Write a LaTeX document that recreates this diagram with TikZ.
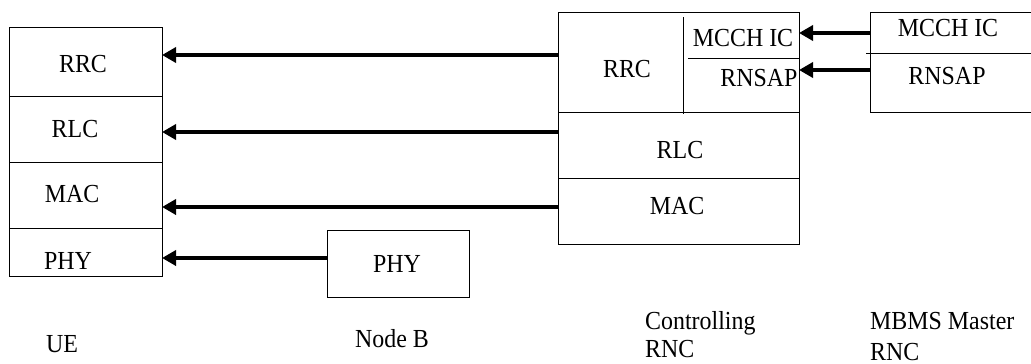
\documentclass[tikz,border=0pt]{standalone}
\usepackage{fontspec}
\setmainfont[FakeStretch=0.92]{Liberation Serif}
\usetikzlibrary{arrows.meta}
\begin{document}
\begin{tikzpicture}[x=1pt,y=-1pt,
  layer/.style={draw=black,line width=1pt,rectangle,anchor=north west,inner sep=0pt,outer sep=0pt},
  lbl/.style={inner sep=0pt,anchor=base,font=\fontsize{26}{30}\selectfont},
  lblw/.style={inner sep=0pt,anchor=base west,font=\fontsize{26}{30}\selectfont},
  arr/.style={line width=4pt,-{Triangle[length=14pt,width=15pt]}},
  thin/.style={line width=1pt}]
\clip (0,0) rectangle (1031,364);
\fill[white] (0,0) rectangle (1031,364);
% UE stack
\node[layer,minimum width=153pt,minimum height=69pt] (uerrc) at (9,27) {};
\node[layer,minimum width=153pt,minimum height=66pt] (uerlc) at (9,96) {};
\node[layer,minimum width=153pt,minimum height=66pt] (uemac) at (9,162) {};
\node[layer,minimum width=153pt,minimum height=48pt] (uephy) at (9,228) {};
\node[lbl] (tuerrc) at (83,72) {RRC};
\node[lbl] (tuerlc) at (75,137) {RLC};
\node[lbl] (tuemac) at (72,202) {MAC};
\node[lbl] (tuephy) at (68,269) {PHY};
% Node B
\node[layer,minimum width=142pt,minimum height=67pt] (nbphy) at (327,230) {};
\node[lbl] (tnbphy) at (397,272) {PHY};
% Controlling RNC
\node[layer,minimum width=241pt,minimum height=100pt] (crrc) at (558,12) {};
\node[layer,minimum width=241pt,minimum height=66pt] (crlc) at (558,112) {};
\node[layer,minimum width=241pt,minimum height=66pt] (cmac) at (558,178) {};
\coordinate (vtop) at (683,17);
\coordinate (vbot) at (683,114);
\draw[thin] (vtop) -- (vbot);
\coordinate (hl) at (688,58);
\draw[thin] (hl) -- (hl -| crrc.east);
\node[lbl] (tcrrc) at (627,77) {RRC};
\node[lbl] (tcmcch) at (743,46) {MCCH IC};
\node[lbl] (tcrnsap) at (759,86) {RNSAP};
\node[lbl] (tcrlc) at (680,158) {RLC};
\node[lbl] (tcmac) at (677,214) {MAC};
% MBMS Master RNC
\node[layer,minimum width=175pt,minimum height=100pt] (mbms) at (870,12) {};
\coordinate (mdl) at (866,53);
\draw[thin] (mdl) -- ++(170,0);
\node[lbl] (tmmcch) at (948,36) {MCCH IC};
\node[lbl] (tmrnsap) at (947,84) {RNSAP};
% arrows
\draw[arr] ([yshift=7pt]crrc.west) -- ([yshift=7pt]crrc.west -| uerrc.east);
\draw[arr] ([yshift=13pt]crlc.west) -- ([yshift=13pt]crlc.west -| uerlc.east);
\draw[arr] ([yshift=4pt]cmac.west) -- ([yshift=4pt]cmac.west -| uemac.east);
\draw[arr] ([yshift=5.5pt]nbphy.west) -- ([yshift=5.5pt]nbphy.west -| uephy.east);
\draw[arr] ([yshift=29pt]mbms.west) -- ([yshift=29pt]mbms.west -| crrc.east);
\draw[arr] ([yshift=-8pt]mbms.west) -- ([yshift=-8pt]mbms.west -| crrc.east);
% captions
\node[lbl] (cue) at (62,352) {UE};
\node[lbl] (cnb) at (392,347) {Node B};
\node[lblw] (cc1) at (645,329) {Controlling};
\node[lblw] (cc2) at (645,357) {RNC};
\node[lblw] (cm1) at (870,329) {MBMS Master};
\node[lblw] (cm2) at (870,360) {RNC};
\end{tikzpicture}
\end{document}
